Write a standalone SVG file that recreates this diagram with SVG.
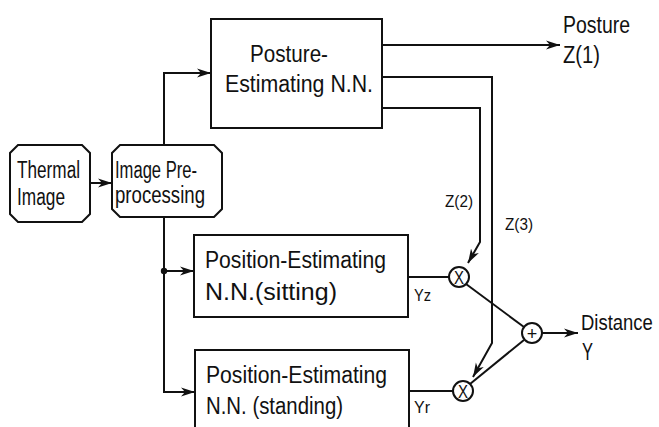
<svg xmlns="http://www.w3.org/2000/svg" width="659" height="427" viewBox="0 0 659 427">
  <style>
    .box { fill: #fff; stroke: #111; stroke-width: 2; }
    .wire { fill: none; stroke: #111; stroke-width: 2; }
    .lbl { font-family: "Liberation Sans", Arial, sans-serif; font-size: 23px; fill: #111; }
    .sm { font-family: "Liberation Sans", Arial, sans-serif; font-size: 16px; fill: #111; }
    .op { font-family: "Liberation Sans", Arial, sans-serif; font-size: 18px; fill: #111; text-anchor: middle; }
  </style>
  <defs>
    <marker id="arr" markerUnits="userSpaceOnUse" markerWidth="16" markerHeight="10" refX="14" refY="5" orient="auto">
      <path d="M0,0.5 L14,5 L0,9.5 L4,5 Z" fill="#111"/>
    </marker>
  </defs>
  <rect width="659" height="427" fill="#fff"/>

  <g id="connectors">
    <!-- thermal image to preprocessing -->
    <path class="wire" d="M90,183 H112" marker-end="url(#arr)"/>
    <!-- preprocessing fan-out -->
    <path class="wire" d="M164,145 V73 H211" marker-end="url(#arr)"/>
    <path class="wire" d="M164,217 V392 H195" marker-end="url(#arr)"/>
    <path class="wire" d="M164,271 H194" marker-end="url(#arr)"/>
    <circle cx="164" cy="271" r="3.2" fill="#111"/>
    <!-- posture outputs -->
    <path class="wire" d="M382,45 H560" marker-end="url(#arr)"/>
    <path class="wire" d="M382,77 H492 V343 L473,377" marker-end="url(#arr)"/>
    <path class="wire" d="M382,108 H480 V242 L468,263" marker-end="url(#arr)"/>
    <!-- position outputs to multipliers -->
    <path class="wire" d="M408,277 H449"/>
    <path class="wire" d="M409,391 H453"/>
    <!-- multipliers to adder -->
    <path class="wire" d="M466,284 L524,327"/>
    <path class="wire" d="M470,384 L524,340"/>
    <!-- adder output -->
    <path class="wire" d="M542,333 H578" marker-end="url(#arr)"/>
  </g>

  <g id="thermal-image">
    <path class="box" d="M18,145 H82 L90,153 V214 L82,222 H18 L10,214 V153 Z"/>
    <text class="lbl" x="17" y="178" textLength="63" lengthAdjust="spacingAndGlyphs">Thermal</text>
    <text class="lbl" x="17" y="205" textLength="48" lengthAdjust="spacingAndGlyphs">Image</text>
  </g>

  <g id="image-preprocessing">
    <path class="box" d="M120,145 H214 L222,153 V209 L214,217 H120 L112,209 V153 Z"/>
    <text class="lbl" x="115" y="178" textLength="82" lengthAdjust="spacingAndGlyphs">Image Pre-</text>
    <text class="lbl" x="115" y="203" textLength="90" lengthAdjust="spacingAndGlyphs">processing</text>
  </g>

  <g id="posture-nn">
    <rect class="box" x="211" y="19" width="171" height="109"/>
    <text class="lbl" x="250" y="62" textLength="78" lengthAdjust="spacingAndGlyphs">Posture-</text>
    <text class="lbl" x="225" y="92" textLength="148" lengthAdjust="spacingAndGlyphs">Estimating N.N.</text>
  </g>

  <g id="position-sitting">
    <rect class="box" x="194" y="235" width="214" height="82"/>
    <text class="lbl" x="205" y="268" textLength="181" lengthAdjust="spacingAndGlyphs">Position-Estimating</text>
    <text class="lbl" x="205" y="300" textLength="132" lengthAdjust="spacingAndGlyphs">N.N.(sitting)</text>
  </g>

  <g id="position-standing">
    <rect class="box" x="195" y="350" width="214" height="90"/>
    <text class="lbl" x="206" y="383" textLength="181" lengthAdjust="spacingAndGlyphs">Position-Estimating</text>
    <text class="lbl" x="206" y="414" textLength="137" lengthAdjust="spacingAndGlyphs">N.N. (standing)</text>
  </g>

  <g id="mult-sitting">
    <circle class="box" cx="459" cy="277" r="10"/>
    <text class="op" x="459" y="283.5" textLength="10" lengthAdjust="spacingAndGlyphs">X</text>
  </g>

  <g id="mult-standing">
    <circle class="box" cx="463" cy="391" r="10"/>
    <text class="op" x="463" y="397.5" textLength="10" lengthAdjust="spacingAndGlyphs">X</text>
  </g>

  <g id="adder">
    <circle class="box" cx="532" cy="333" r="10"/>
    <text class="op" x="532" y="339.5">+</text>
  </g>

  <g id="labels">
    <text class="lbl" x="563" y="33" textLength="67" lengthAdjust="spacingAndGlyphs">Posture</text>
    <text class="lbl" x="563" y="63" textLength="37" lengthAdjust="spacingAndGlyphs">Z(1)</text>
    <text class="lbl" transform="translate(581,330) scale(0.84,1)" style="font-size:22px">Distance</text>
    <text class="lbl" x="582" y="360" textLength="11" lengthAdjust="spacingAndGlyphs">Y</text>
    <text class="sm" x="445" y="207" textLength="28" lengthAdjust="spacingAndGlyphs">Z(2)</text>
    <text class="sm" x="505" y="230" textLength="28" lengthAdjust="spacingAndGlyphs">Z(3)</text>
    <text class="sm" x="414" y="301" textLength="17" lengthAdjust="spacingAndGlyphs">Yz</text>
    <text class="sm" x="414" y="413" textLength="16" lengthAdjust="spacingAndGlyphs">Yr</text>
  </g>
</svg>
